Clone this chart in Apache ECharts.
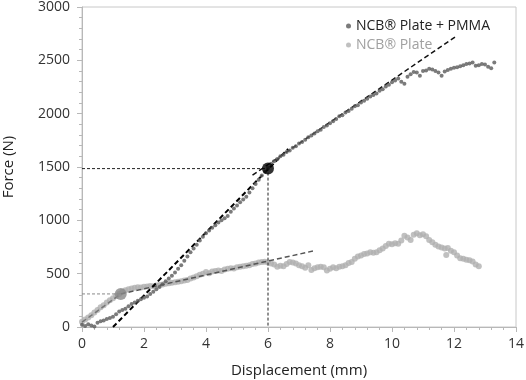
<!DOCTYPE html>
<html>
<head>
<meta charset="utf-8">
<script src="https://cdn.jsdelivr.net/npm/echarts@6/dist/echarts.min.js"></script>
<style>
  html, body { margin: 0; padding: 0; background: #fff; }
  #chart { width: 526px; height: 380px; }
</style>
</head>
<body>
<div id="chart"></div>
<script>
// NCB Plate + PMMA (dark points), [displacement mm, force N]
var pmmaData = [
  [0.0,20],[0.1,10],[0.2,25],[0.3,15],[0.4,5],[0.5,40],[0.6,55],[0.7,60],[0.8,75],[0.9,85],
  [1.0,95],[1.1,120],[1.2,145],[1.3,160],[1.4,170],[1.5,195],[1.6,215],[1.7,230],[1.8,245],[1.9,260],
  [2.0,275],[2.1,285],[2.2,310],[2.3,330],[2.4,355],[2.5,375],[2.6,400],[2.7,430],[2.8,455],[2.9,480],
  [3.0,510],[3.1,545],[3.2,580],[3.3,620],[3.4,660],[3.5,700],[3.6,735],[3.7,770],[3.8,810],[3.9,845],
  [4.0,880],[4.1,905],[4.2,930],[4.3,955],[4.4,980],[4.5,1000],[4.6,1020],[4.7,1040],[4.8,1080],[4.9,1110],
  [5.0,1140],[5.1,1170],[5.2,1195],[5.3,1220],[5.4,1260],[5.5,1300],[5.6,1340],[5.7,1380],[5.8,1420],[5.9,1455],
  [6.0,1490],[6.1,1530],[6.2,1555],[6.3,1575],[6.4,1600],[6.5,1615],[6.6,1640],[6.7,1655],[6.8,1680],[6.9,1695],
  [7.0,1720],[7.1,1735],[7.2,1755],[7.3,1780],[7.4,1795],[7.5,1815],[7.6,1835],[7.7,1850],[7.8,1875],[7.9,1890],
  [8.0,1910],[8.1,1930],[8.2,1950],[8.3,1975],[8.4,1985],[8.5,2010],[8.6,2025],[8.7,2045],[8.8,2070],[8.9,2080],
  [9.0,2105],[9.1,2120],[9.2,2140],[9.3,2160],[9.4,2175],[9.5,2190],[9.6,2215],[9.7,2230],[9.8,2255],[9.9,2270],
  [10.0,2295],[10.1,2310],[10.2,2330],[10.3,2300],[10.4,2280],[10.5,2345],[10.6,2370],[10.7,2390],[10.8,2385],[10.9,2355],
  [11.0,2400],[11.1,2405],[11.2,2420],[11.3,2415],[11.4,2400],[11.5,2385],[11.6,2355],[11.7,2395],[11.8,2410],[11.9,2420],
  [12.0,2430],[12.1,2435],[12.2,2445],[12.3,2455],[12.4,2465],[12.5,2470],[12.6,2480],[12.7,2450],[12.8,2455],[12.9,2465],
  [13.0,2460],[13.1,2440],[13.2,2425],[13.3,2480]
];

// NCB Plate alone (light grey points)
var plateData = [
  [0.0,50],[0.1,70],[0.2,90],[0.3,110],[0.4,135],[0.5,160],[0.6,185],[0.7,205],[0.8,230],[0.9,250],
  [1.0,270],[1.1,290],[1.2,310],[1.3,330],[1.4,345],[1.5,355],[1.6,362],[1.7,368],[1.8,372],[1.9,370],
  [2.0,378],[2.1,380],[2.2,385],[2.3,382],[2.4,390],[2.5,393],[2.6,398],[2.7,405],[2.8,410],[2.9,415],
  [3.0,420],[3.1,425],[3.2,430],[3.3,435],[3.4,440],[3.5,455],[3.6,465],[3.7,475],[3.8,490],[3.9,500],
  [4.0,515],[4.1,505],[4.2,520],[4.3,525],[4.4,530],[4.5,525],[4.6,540],[4.7,545],[4.8,550],[4.9,548],
  [5.0,560],[5.1,565],[5.2,570],[5.3,575],[5.4,580],[5.5,590],[5.6,595],[5.7,605],[5.8,610],[5.9,612],
  [6.0,605],[6.1,595],[6.2,585],[6.3,565],[6.4,575],[6.5,570],[6.6,590],[6.7,610],[6.8,605],[6.9,595],
  [7.0,580],[7.1,570],[7.2,555],[7.3,580],[7.4,535],[7.5,550],[7.6,560],[7.7,565],[7.8,560],[7.9,530],
  [8.0,545],[8.1,560],[8.2,550],[8.3,565],[8.4,570],[8.5,580],[8.6,600],[8.7,610],[8.8,640],[8.9,660],
  [9.0,670],[9.1,685],[9.2,690],[9.3,700],[9.4,695],[9.5,700],[9.6,720],[9.7,735],[9.8,760],[9.9,780],
  [10.0,775],[10.1,785],[10.2,780],[10.3,810],[10.4,855],[10.5,840],[10.6,815],[10.7,865],[10.8,880],[10.9,860],
  [11.0,870],[11.1,850],[11.2,815],[11.3,795],[11.4,770],[11.5,755],[11.6,745],[11.7,735],[11.75,675],[11.8,740],
  [11.9,715],[12.0,700],[12.1,670],[12.2,645],[12.3,640],[12.4,630],[12.5,625],[12.6,615],[12.7,585],[12.8,570]
];

// stiffness fits and yield markers
var pmmaFit1 = [[1.0, 0], [6.65, 1670]];
var pmmaFit2 = [[5.5, 1424], [12.05, 2721]];
var plateFit1 = [[0.0, 45], [1.25, 310]];
var plateFit2 = [[1.25, 310], [7.45, 712]];
var pmmaYield = [6.0, 1485];
var plateYield = [1.25, 310];

var pmmaGuide = [[0, pmmaYield[1]], pmmaYield, [pmmaYield[0], 0]];
var plateGuide = [[0, plateYield[1]], plateYield];

var chart = echarts.init(document.getElementById('chart'));

function dashed(data, color, width, dash) {
  return {
    type: 'line',
    data: data,
    symbol: 'none',
    silent: true,
    lineStyle: { color: color, width: width, type: dash || [5, 3] },
    z: 3
  };
}

var font = 'Open Sans';

option = {
  animation: false,
  grid: {
    left: 82,
    right: 10,
    top: 7,
    bottom: 53,
    outerBoundsMode: 'none',
    containLabel: false,
    show: true,
    borderColor: '#c8c8c8',
    borderWidth: 1
  },
  legend: {
    orient: 'vertical',
    left: 341,
    top: 14,
    itemGap: 5,
    itemWidth: 5,
    itemHeight: 5,
    icon: 'circle',
    textStyle: { fontFamily: font, fontSize: 14 },
    data: [
      { name: 'NCB® Plate + PMMA', textStyle: { color: '#222' } },
      { name: 'NCB® Plate', textStyle: { color: '#a0a0a0' } }
    ]
  },
  xAxis: {
    type: 'value',
    min: 0,
    max: 14,
    interval: 2,
    name: 'Displacement (mm)',
    nameLocation: 'middle',
    nameGap: 36,
    nameTextStyle: { fontFamily: font, fontSize: 15, color: '#222' },
    axisLine: { lineStyle: { color: '#b8b8b8' } },
    axisTick: { show: true, length: 5, lineStyle: { color: '#b8b8b8' } },
    minorTick: { show: true, splitNumber: 5, length: 3, lineStyle: { color: '#b8b8b8' } },
    axisLabel: { fontFamily: font, fontSize: 14, color: '#333', margin: 10 },
    splitLine: { show: false }
  },
  yAxis: {
    type: 'value',
    min: 0,
    max: 3000,
    interval: 500,
    name: 'Force (N)',
    nameLocation: 'middle',
    nameGap: 66,
    nameTextStyle: { fontFamily: font, fontSize: 15, color: '#222' },
    axisLine: { show: true, lineStyle: { color: '#b8b8b8' } },
    axisTick: { show: true, length: 5, lineStyle: { color: '#b8b8b8' } },
    minorTick: { show: true, splitNumber: 5, length: 3, lineStyle: { color: '#b8b8b8' } },
    axisLabel: {
      fontFamily: font, fontSize: 14, color: '#333', margin: 12,
      formatter: function (v) { return String(v); }
    },
    splitLine: { show: false }
  },
  series: [
    {
      name: 'NCB® Plate',
      type: 'scatter',
      data: plateData,
      symbolSize: 6,
      itemStyle: { color: '#b0b0b0' },
      z: 2
    },
    {
      name: 'NCB® Plate + PMMA',
      type: 'scatter',
      data: pmmaData,
      symbolSize: 4,
      itemStyle: { color: '#5a5a5a' },
      z: 4
    },
    dashed(pmmaGuide, '#222', 1, [3, 2]),
    dashed(plateGuide, '#8a8a8a', 1, [3, 2]),
    dashed(plateFit1, '#777', 1.5),
    dashed(plateFit2, '#555', 1.5),
    dashed(pmmaFit1, '#000', 2),
    dashed(pmmaFit2, '#111', 1.5),
    {
      type: 'scatter',
      data: [pmmaYield],
      symbolSize: 12,
      itemStyle: { color: '#000' },
      silent: true,
      z: 6
    },
    {
      type: 'scatter',
      data: [plateYield],
      symbolSize: 12,
      itemStyle: { color: '#888' },
      silent: true,
      z: 6
    }
  ]
};

chart.setOption(option);
</script>
</body>
</html>
